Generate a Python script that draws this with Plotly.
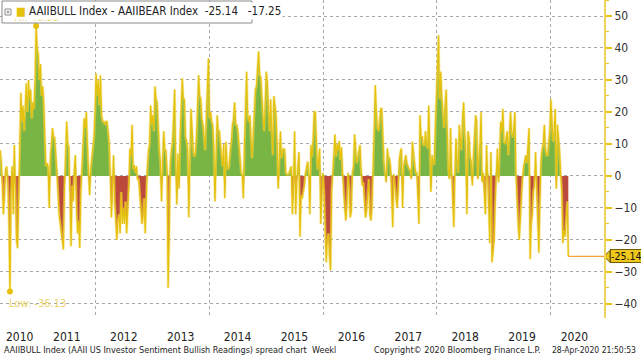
import numpy as np
import pandas as pd
import plotly.graph_objects as go

# ---------------- data (weekly AAII bull - bear spread) ----------------
start_date = "2010-04-29"
spread = [
    8, 5, -3, -12, -6, 2, 3, -2, -14, -36.13, -6, 3, -12, 9.7, -5, -20, -22.6, -8, 10, 26,
    17, 22, 14, 24, 29, 20, 30, 24, 27, 18, 23, 21, 30, 46.88, 40, 38, 30, 35, 25, 28,
    23, 12, 3, 4, 3, -10, 6, 10, 15, 12, 12, 7, 2, -5, -12, -15, -19, -20, -23, -4,
    6, 17, 10, 9, -5, -22, -3, -8, 2, 6.5, -10, -18, -14, -22.5, -5, 3, 12, 18, 15, 20,
    10, 2, -6, 2, 6, 8, 12, 20, 32, 25, 30, 22, 31.5, 19, 17, 17, 16, 17, 17, 14,
    10, 0, -13, -5, 6.5, -8, -15, -20, -14, -12, -18, -5, -15, -10, -15, -8, -18, -12, -3, 8.6,
    6, 16, 2, 3.4, 1, 3, -1, -1, -6, -10, -15, -13, -7, -18, -3, 3, 8, 10, 22, 16,
    19, 14, 28, 24, 23, 14, 8, 4, -8, 5, 14, 8, 8, 2, -35, -20, 4, 8, 10.7, 18,
    27, 5, -9, 7, -4, 12, 20, 30.5, 24, 24, 12, 11, 8, -13, 6, 21, 15, 8, 6, 7,
    12, 20, 31.5, 25, 24, 18, 16, 12, 8, 18, 26, 36.8, 18, 20, 17, 16, 8, -8, 6, 19,
    14, 14, 10, 6.5, 3, 10, -7, 10.7, 4, 2, 3, 8, 10.7, 16, 18, 23, 16, 16, 14, 10,
    5, 1, 0.5, -7, 10, 20, 32.6, 19, 17, 19, 12, 5.5, 12, 20, 27, 28, 33, 39, 31.5, 31,
    25, 19, 14, 22, 32.6, 29.5, 20, 14, 24, 12, 6.5, 25, 22, 19, 10, -4, 6, 14, 5.5, 8,
    8.6, 8, 1, 0.5, 0.5, 1, 2, 3, -12, -3, 14, -12, -2, 4, 7.5, -19, -6, -7, -5, -3,
    1, 3, 4.5, 1, -12, 9.7, 6, 12, 20, 20, 8.6, 2, 5, 8.6, -15, -5, 1, -5, -20, -27,
    -20, -18, -25, -29.5, -5, 2, 5, 13, 6, 10, 8, 11, 5, 9, 1, -6, -10, -14, -9, 1,
    -4, -13, -11, 1, 3, 13, 8, 4, 6, 8.6, 9.7, 2, -3, -2, -10, -13, -11, -6, -1, -12,
    -14, -10, 2, 20, 28.4, 20, 15, 14, 19, 21, 21, 10.7, 4, 1, -2, 8.6, 6, 5.5, 3, -6,
    -16, 0.5, -3, -8, -10, -5, 5, 7.5, 8.6, -10, 3, 5, 6.5, 4, 3, 2, 2, -1, 10.7, 6,
    4, 1, 1, -6, -15, 19, 12, 12.5, 9.7, 9.7, 14, 10, 8.6, 22, 10, -5, 6.5, 5, 3.4, 15,
    24, 32.6, 44, 24, 32.6, 25, 19, 15, 22, 27, 14, 2, -1, 15, 1, -10, -16, 1, 11.8, 5,
    1, 16, 10, 8, 18, 23, 14, 8.6, -12, 14, 12, 6, 4.5, -3, 6.5, 12, 19, 17, -1, 6.5,
    10, 20, -2, 1, -8, -12, 9.7, 2, -10, -21, 7.5, -27, -24, -20, -8, 3, 8.6, -2, 5.5,
    17, 14, 21, 10.7, 10, 12, 14, 6.5, 15, 20, 14, 12, 15, 20, 0.5, -10, -15, -20, -12, -5, -1,
    3, 5, 6.5, 4, 8.6, 15, -26, -15, -12, -5, -3, 7.5, -5, -15, -24, -8, 5.5, 8.6, 10, 16,
    8.6, 6.5, 6.5, 10.7, 14, 24, 19, 10.7, 14, 21, -4, 16, 12, 8, 0.5, -5, -21, -17, -19, -12, -8, -25.14,
]
second_value = -17.25

year_labels = ["2010", "2011", "2012", "2013", "2014", "2015", "2016", "2017", "2018", "2019", "2020"]
year_label_pos = ["2010-09-01", "2011-07-01", "2012-07-01", "2013-07-01", "2014-07-01", "2015-07-01",
                  "2016-07-01", "2017-07-01", "2018-07-01", "2019-07-01", "2020-06-01"]
y_ticks = [-40, -30, -20, -10, 0, 10, 20, 30, 40, 50]

series_name = "AAIIBULL Index - AAIIBEAR Index"
footer_left = "AAIIBULL Index (AAII US Investor Sentiment Bullish Readings) spread chart  Weekl"
footer_mid = "Copyright\u00a9 2020 Bloomberg Finance L.P."
footer_right = "28-Apr-2020 21:50:53"

x_range = ["2010-04-28", "2020-12-08"]
y_range = [-44.4, 55]

# ---------------- derived ----------------
dates = pd.date_range(start_date, periods=len(spread), freq="7D")
s = np.array(spread, dtype=float)
pos = np.where(s > 0, s, 0.0)
neg = np.where(s < 0, s, 0.0)
i_hi, i_lo = int(np.argmax(s)), int(np.argmin(s))
last = s[-1]

GREEN = "#79b545"
RED = "#bb4a3c"
YEL = "#e6c10c"
GRID = "#a8a8a8"
TAG = "#efc81c"
FONT = "Liberation Sans Narrow, DejaVu Sans Condensed, Liberation Sans, sans-serif"

W, H = 641, 356
M = dict(l=0, r=37, t=0, b=38)
PW, PH = W - M["l"] - M["r"], H - M["t"] - M["b"]


def px(xp):  # pixel -> paper x
    return xp / PW


def py(yp):  # pixel (from top) -> paper y
    return 1 - yp / PH


fig = go.Figure()
fig.add_trace(go.Scatter(x=dates, y=pos, mode="lines", fill="tozeroy", fillcolor=GREEN,
                         line=dict(width=0), hoverinfo="skip", showlegend=False))
fig.add_trace(go.Scatter(x=dates, y=neg, mode="lines", fill="tozeroy", fillcolor=RED,
                         line=dict(width=0), hoverinfo="skip", showlegend=False))
fig.add_trace(go.Scatter(x=dates, y=s, mode="lines", line=dict(color="rgba(240,214,80,0.55)", width=2.6),
                         hoverinfo="skip", showlegend=False))
fig.add_trace(go.Scatter(x=dates, y=s, mode="lines", line=dict(color=YEL, width=1.1),
                         name=series_name, showlegend=False))
fig.add_trace(go.Scatter(x=[dates[-1], x_range[1]], y=[last, last], mode="lines",
                         line=dict(color="#f5a032", width=1.3), hoverinfo="skip", showlegend=False))
fig.add_trace(go.Scatter(x=[dates[i_hi], dates[i_lo]], y=[s[i_hi], s[i_lo]], mode="markers",
                         marker=dict(color=YEL, size=6), hoverinfo="skip", showlegend=False))

# legend box frame
fig.add_shape(type="rect", xref="paper", yref="paper", layer="above",
              x0=px(2), x1=px(252), y0=py(23), y1=py(1),
              fillcolor="white", line=dict(color="#8a8a8a", width=1))
# small "expand" icon (square with a plus) at the left of the legend box
fig.add_shape(type="rect", xref="paper", yref="paper", layer="above",
              x0=px(5), x1=px(11), y0=py(15), y1=py(9),
              fillcolor="white", line=dict(color="#8a8a8a", width=1))
fig.add_shape(type="line", xref="paper", yref="paper", layer="above",
              x0=px(6.5), x1=px(9.5), y0=py(12), y1=py(12), line=dict(color="#8a8a8a", width=1))
fig.add_shape(type="line", xref="paper", yref="paper", layer="above",
              x0=px(8), x1=px(8), y0=py(13.5), y1=py(10.5), line=dict(color="#8a8a8a", width=1))
# small arrow head of the last-value tag, pointing at the axis
tip_dx, tip_dy = px(6), 1.9
fig.add_shape(type="path", xref="paper", yref="y", layer="below",
              path=f"M 1.0,{last} L {1 + tip_dx},{last + tip_dy} L {1 + tip_dx},{last - tip_dy} Z",
              fillcolor=TAG, line=dict(color="#6b5a00", width=1))

annotations = [
    dict(x=dates[i_hi], y=s[i_hi], xref="x", yref="y", text=f"Hi: {s[i_hi]:.2f}", showarrow=False,
         yanchor="bottom", yshift=0, font=dict(family=FONT, size=11, color="#ead36a")),
    dict(x=dates[i_lo], y=s[i_lo], xref="x", yref="y", text=f"Low: {s[i_lo]:.2f}", showarrow=False,
         xanchor="left", yanchor="top", xshift=-3, yshift=-3, font=dict(family=FONT, size=11, color="#ead36a")),
    dict(x=px(14), y=py(11), xref="paper", yref="paper", xanchor="left", yanchor="middle", showarrow=False,
         text=f"<span style='color:{YEL}'>\u25a0</span> {series_name}  {last:.2f}   {second_value:.2f}",
         bgcolor="white", borderpad=1,
         font=dict(family=FONT, size=11.5, color="#222")),
    dict(x=1, y=last, xref="paper", yref="y", xanchor="left", yanchor="middle", xshift=6, showarrow=False,
         text=f"{last:.2f}", bgcolor=TAG, bordercolor="#6b5a00", borderwidth=1, borderpad=0,
         font=dict(family=FONT, size=10.5, color="#111")),
    dict(x=0.0, y=0, xref="paper", yref="paper", xanchor="left", yanchor="middle", yshift=-32, xshift=2,
         showarrow=False, text=footer_left, font=dict(family=FONT, size=9, color="#222")),
    dict(x=px(372), y=0, xref="paper", yref="paper", xanchor="left", yanchor="middle", yshift=-32,
         showarrow=False, text=footer_mid, font=dict(family=FONT, size=9, color="#222")),
    dict(x=1.0, y=0, xref="paper", yref="paper", xanchor="right", yanchor="middle", yshift=-32, xshift=34,
         showarrow=False, text=footer_right, font=dict(family=FONT, size=8.5, color="#222")),
]

fig.update_layout(
    width=W, height=H,
    margin=M,
    paper_bgcolor="white", plot_bgcolor="white",
    annotations=annotations,
    showlegend=False,
    xaxis=dict(type="date", range=x_range, tickmode="array", tickvals=year_label_pos, ticktext=year_labels,
               ticks="", showgrid=False, zeroline=False, showline=False,
               ticklabelstandoff=10,
               tickfont=dict(family=FONT, size=12, color="#222"),
               minor=dict(tickmode="linear", tick0="2012-01-01", dtick="M24", showgrid=True,
                          gridcolor=GRID, griddash="dot", gridwidth=1, ticks="")),
    yaxis=dict(side="right", range=y_range, tickmode="array", tickvals=y_ticks,
               showgrid=True, gridcolor=GRID, griddash="dot", gridwidth=1, zeroline=False,
               showline=True, linecolor="#f0d45a", linewidth=2,
               ticks="outside", ticklen=6, tickwidth=2, tickcolor="#e8c41a",
               tickfont=dict(family=FONT, size=12, color="#333"),
               minor=dict(dtick=5, tick0=0, ticks="outside", ticklen=3, tickwidth=1, tickcolor="#e8c41a",
                          showgrid=False)),
)

fig.write_html("out.html", config={"displayModeBar": False},
               post_script="document.body.style.margin='0';document.body.style.overflow='hidden';")
